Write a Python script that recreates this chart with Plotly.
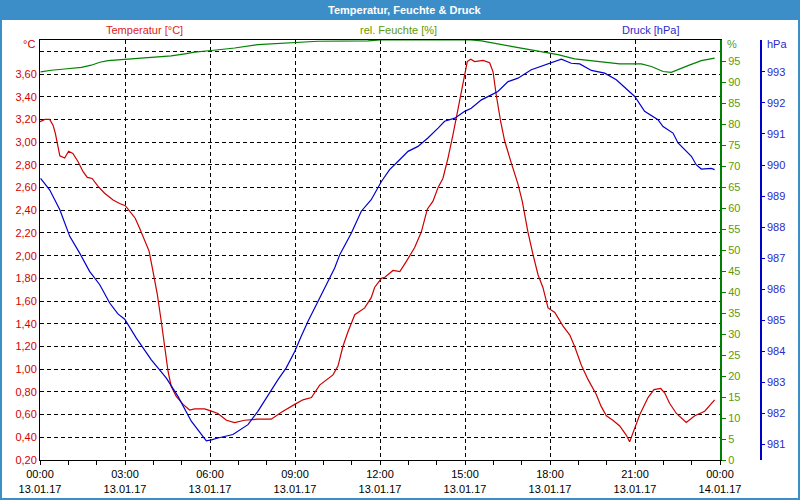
import plotly.graph_objects as go
import pandas as pd

# ---------------- data ----------------
temp_hours = [0.0, 0.17, 0.34, 0.46, 0.54, 0.64, 0.70, 0.87, 1.01, 1.16, 1.34, 1.52, 1.67, 1.84,
              2.05, 2.28, 2.58, 2.81, 3.01, 3.17, 3.36, 3.52, 3.70, 3.85, 3.99, 4.14, 4.28, 4.40,
              4.52, 4.63, 4.81, 5.05, 5.28, 5.46, 5.81, 6.05, 6.28, 6.58, 6.87, 7.22, 7.69, 8.16,
              8.52, 8.99, 9.28, 9.58, 9.87, 10.34, 10.52, 10.69, 10.87, 11.11, 11.46, 11.69, 11.81,
              12.05, 12.17, 12.46, 12.70, 12.93, 13.22, 13.46, 13.67, 13.87, 14.05, 14.22, 14.40,
              14.58, 14.75, 14.93, 15.08, 15.20, 15.34, 15.64, 15.87, 15.99, 16.10, 16.26, 16.40,
              16.63, 16.87, 17.02, 17.22, 17.40, 17.58, 17.75, 17.93, 18.17, 18.46, 18.70, 18.87,
              19.10, 19.34, 19.63, 19.81, 19.99, 20.22, 20.46, 20.69, 20.81, 20.93, 21.17, 21.46,
              21.67, 21.91, 22.05, 22.22, 22.46, 22.81, 23.11, 23.46, 23.81]
temp_values = [3.18, 3.20, 3.20, 3.15, 3.08, 2.95, 2.88, 2.86, 2.92, 2.90, 2.83, 2.74, 2.69, 2.68,
               2.61, 2.55, 2.49, 2.46, 2.44, 2.39, 2.33, 2.24, 2.13, 2.04, 1.86, 1.66, 1.42, 1.22,
               0.98, 0.85, 0.76, 0.69, 0.64, 0.65, 0.65, 0.63, 0.61, 0.55, 0.53, 0.55, 0.56, 0.56,
               0.62, 0.69, 0.73, 0.75, 0.86, 0.95, 1.03, 1.20, 1.33, 1.48, 1.54, 1.63, 1.72,
               1.80, 1.81, 1.87, 1.86, 1.95, 2.07, 2.21, 2.41, 2.48, 2.60, 2.68, 2.86,
               3.07, 3.29, 3.54, 3.71, 3.73, 3.71, 3.72, 3.70, 3.62, 3.42, 3.18, 3.01,
               2.82, 2.63, 2.48, 2.21, 2.01, 1.83, 1.72, 1.54, 1.50, 1.38, 1.30, 1.20,
               1.04, 0.91, 0.78, 0.67, 0.59, 0.55, 0.50, 0.42, 0.36, 0.44, 0.60, 0.75,
               0.82, 0.83, 0.79, 0.70, 0.61, 0.53, 0.59, 0.63, 0.73]

hum_hours = [0.02, 0.40, 0.87, 1.46, 1.81, 2.11, 2.40, 2.99, 3.58, 4.05, 4.63, 5.11, 5.46, 6.05,
             6.87, 7.69, 8.99, 9.81, 11.58, 12.0, 15.2, 15.58, 16.63, 17.46, 18.11, 18.28, 18.87,
             19.81, 20.46, 21.22, 21.58, 21.99, 22.28, 22.87, 23.34, 23.81]
hum_values = [92.4, 92.8, 93.1, 93.5, 94.0, 94.7, 95.1, 95.4, 95.7, 96.0, 96.2, 96.7, 97.1, 97.5,
              98.1, 98.9, 99.5, 99.7, 99.8, 100.0, 100.0, 99.8, 98.5, 97.5, 96.7, 96.5, 95.5,
              94.8, 94.3, 94.3, 93.7, 92.5, 92.3, 93.9, 95.1, 95.7]

pres_hours = [0.02, 0.34, 0.70, 1.05, 1.40, 1.75, 2.11, 2.46, 2.75, 2.99, 3.40, 3.93, 4.46, 4.87,
              5.34, 5.69, 5.87, 6.05, 6.28, 6.81, 7.34, 7.69, 8.05, 8.40, 8.69, 8.99, 9.22, 9.46,
              9.81, 10.10, 10.40, 10.58, 10.99, 11.34, 11.69, 12.05, 12.34, 12.64, 12.99, 13.34,
              13.69, 14.05, 14.28, 14.64, 14.99, 15.22, 15.58, 15.93, 16.16, 16.52, 16.87, 17.34,
              17.69, 18.11, 18.40, 18.75, 19.05, 19.46, 19.93, 20.34, 20.64, 20.99, 21.34, 21.81,
              21.99, 22.34, 22.52, 22.99, 23.16, 23.34, 23.69, 23.81]
pres_values = [989.57, 989.20, 988.56, 987.70, 987.16, 986.57, 986.14, 985.55, 985.20, 985.03,
               984.42, 983.72, 983.13, 982.54, 981.74, 981.31, 981.11, 981.14, 981.20, 981.31,
               981.63, 982.06, 982.59, 983.08, 983.46, 983.99, 984.48, 984.96, 985.60, 986.14,
               986.68, 987.11, 987.81, 988.51, 988.88, 989.47, 989.85, 990.12, 990.44, 990.60,
               990.87, 991.19, 991.41, 991.51, 991.73, 991.83, 992.10, 992.26, 992.37, 992.69,
               992.80, 993.07, 993.18, 993.32, 993.41, 993.28, 993.26, 993.05, 992.96, 992.75,
               992.50, 992.21, 991.73, 991.46, 991.24, 991.03, 990.71, 990.28, 990.01, 989.87,
               989.89, 989.85]

x_tick_hours = [0, 3, 6, 9, 12, 15, 18, 21, 24]
x_tick_times = ["00:00", "03:00", "06:00", "09:00", "12:00", "15:00", "18:00", "21:00", "00:00"]
x_tick_dates = ["13.01.17", "13.01.17", "13.01.17", "13.01.17", "13.01.17",
                "13.01.17", "13.01.17", "13.01.17", "14.01.17"]
temp_ticks = [0.2, 0.4, 0.6, 0.8, 1.0, 1.2, 1.4, 1.6, 1.8, 2.0, 2.2, 2.4, 2.6, 2.8, 3.0,
              3.2, 3.4, 3.6, 3.8]
temp_labelled_max = 3.6
hum_ticks = [0, 5, 10, 15, 20, 25, 30, 35, 40, 45, 50, 55, 60, 65, 70, 75, 80, 85, 90, 95]
pres_ticks = [981, 982, 983, 984, 985, 986, 987, 988, 989, 990, 991, 992, 993]

temp_range = [0.2, 3.9]
hum_range = [0, 100]
pres_range = [980.49, 994.03]

# ---------------- figure ----------------
base = pd.Timestamp("2017-01-13 00:00")


def to_time(hours):
    return [base + pd.Timedelta(hours=h) for h in hours]


FONT = "Liberation Sans Narrow, Arial Narrow, Liberation Sans, Arial, sans-serif"
W, H = 800, 500
ML, MR, MT, MB = 40, 39, 40, 40
PW = W - ML - MR   # paper width in px
PH = H - MT - MB   # paper height in px


def px_x(x):
    return (x - ML) / PW


def px_y(y):
    return (H - MB - y) / PH


fig = go.Figure()
fig.add_trace(go.Scatter(x=to_time(temp_hours), y=temp_values, mode="lines",
                         line=dict(color="#cc0000", width=1.2), yaxis="y", name="Temperatur"))
fig.add_trace(go.Scatter(x=to_time(hum_hours), y=hum_values, mode="lines",
                         line=dict(color="#008000", width=1.2), yaxis="y2", name="rel. Feuchte"))
fig.add_trace(go.Scatter(x=to_time(pres_hours), y=pres_values, mode="lines",
                         line=dict(color="#0000cc", width=1.2), yaxis="y3", name="Druck"))

grid_dash = "4px,3px"
plot_right = (720 - ML) / PW

fig.update_layout(
    width=W, height=H,
    margin=dict(l=ML, r=MR, t=MT, b=MB, autoexpand=False),
    paper_bgcolor="white", plot_bgcolor="white",
    showlegend=False,
    separators=",.",
    font=dict(family=FONT, size=11, color="black"),
    xaxis=dict(
        type="date", domain=[0, plot_right],
        range=[base, base + pd.Timedelta(hours=24)],
        tickvals=to_time(x_tick_hours),
        ticktext=[f"{t}<br>{d}" for t, d in zip(x_tick_times, x_tick_dates)],
        showgrid=True, gridcolor="black", gridwidth=1, griddash=grid_dash,
        ticks="outside", ticklen=4, tickcolor="black", tickwidth=1,
        minor=dict(dtick=3600000, ticks="outside", ticklen=4, tickcolor="black",
                   showgrid=False),
        showline=True, mirror=True, linecolor="black", linewidth=1,
        tickfont=dict(family=FONT, size=11, color="black"),
        zeroline=False, automargin=False,
    ),
    yaxis=dict(
        range=temp_range, tickvals=temp_ticks,
        ticktext=[f"{v:.2f}".replace(".", ",") if v <= temp_labelled_max + 1e-9 else ""
                  for v in temp_ticks],
        showgrid=True, gridcolor="black", gridwidth=1, griddash=grid_dash,
        showline=True, linecolor="black", linewidth=1, ticks="",
        tickfont=dict(family=FONT, size=11, color="#d40000"),
        zeroline=False, automargin=False,
    ),
    yaxis2=dict(
        range=hum_range, tickvals=hum_ticks, overlaying="y", side="right", anchor="x",
        showgrid=False, showline=True, linecolor="#008000", linewidth=2,
        ticks="outside", ticklen=4, tickcolor="#008000",
        tickfont=dict(family=FONT, size=11, color="#5f9a00"),
        zeroline=False, automargin=False,
    ),
    yaxis3=dict(
        range=pres_range, tickvals=pres_ticks, overlaying="y", side="right",
        anchor="free", position=1.0,
        showgrid=False, showline=True, linecolor="#0000cc", linewidth=1.5,
        ticks="outside", ticklen=3, tickcolor="#0000cc",
        tickfont=dict(family=FONT, size=11, color="#2a2acc"),
        zeroline=False, automargin=False,
    ),
)

# title bar and frame
fig.add_shape(type="rect", xref="paper", yref="paper",
              x0=px_x(0), x1=px_x(W), y0=px_y(20), y1=px_y(0),
              fillcolor="#3c8ec8", line=dict(width=0), layer="above")
fig.add_shape(type="rect", xref="paper", yref="paper",
              x0=px_x(1), x1=px_x(W - 1), y0=px_y(H - 1), y1=px_y(1),
              fillcolor="rgba(0,0,0,0)", line=dict(color="#3c8ec8", width=2), layer="above")

annotations = [
    dict(text="<b>Temperatur, Feuchte & Druck</b>", x=px_x(404), y=px_y(10),
         font=dict(family="Liberation Sans, Arial, sans-serif", size=11, color="white"),
         xanchor="center"),
    dict(text="Temperatur [°C]", x=px_x(144), y=px_y(30),
         font=dict(family=FONT, size=11, color="#dd2222"), xanchor="center"),
    dict(text="rel. Feuchte [%]", x=px_x(398), y=px_y(30),
         font=dict(family=FONT, size=11, color="#5f9a00"), xanchor="center"),
    dict(text="Druck [hPa]", x=px_x(650), y=px_y(30),
         font=dict(family=FONT, size=11, color="#2a2acc"), xanchor="center"),
    dict(text="°C", x=px_x(37), y=px_y(44),
         font=dict(family=FONT, size=11, color="#d40000"), xanchor="right"),
    dict(text="%", x=px_x(725), y=px_y(44),
         font=dict(family=FONT, size=11, color="#5f9a00"), xanchor="left"),
    dict(text="hPa", x=px_x(765), y=px_y(44),
         font=dict(family=FONT, size=11, color="#2a2acc"), xanchor="left"),
]
for a in annotations:
    fig.add_annotation(xref="paper", yref="paper", showarrow=False, yanchor="middle", **a)

fig.write_html("out.html",
               config={"displayModeBar": False},
               post_script="document.body.style.margin='0';document.body.style.overflow='hidden';")
